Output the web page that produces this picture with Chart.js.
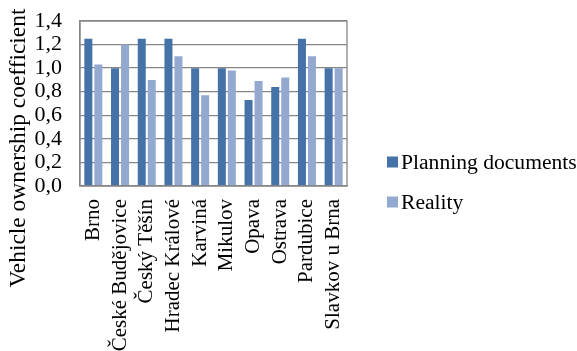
<!DOCTYPE html>
<html>
<head>
<meta charset="utf-8">
<script src="https://cdn.jsdelivr.net/npm/chart.js@4/dist/chart.umd.min.js"></script>
<style>
  html, body { margin: 0; padding: 0; background: #fff; }
  #wrap { width: 577px; height: 351px; }
</style>
</head>
<body>
<div id="wrap"><canvas id="coefChart" width="577" height="351"></canvas></div>
<script>
const cities = ["Brno", "České Budějovice", "Český Těšín", "Hradec Králové", "Karviná",
  "Mikulov", "Opava", "Ostrava", "Pardubice", "Slavkov u Brna"];
const planning = [1.25, 1.0, 1.25, 1.25, 1.0, 1.0, 0.73, 0.84, 1.25, 1.0];
const reality = [1.03, 1.2, 0.9, 1.1, 0.77, 0.98, 0.89, 0.92, 1.1, 1.0];
const yTicks = [0, 0.2, 0.4, 0.6, 0.8, 1.0, 1.2, 1.4];
const yTitle = "Vehicle ownership coefficient";

const serif = "'Liberation Serif', 'Times New Roman', serif";
Chart.defaults.font.family = serif;
Chart.defaults.color = "#000";

// plot frame, rotated axis title and the legend on the right
const frame = {
  id: "frame",
  afterDraw(chart) {
    const { ctx, chartArea: a } = chart;
    ctx.save();
    ctx.strokeStyle = "#868686";
    ctx.lineWidth = 1.3;
    ctx.strokeRect(a.left, a.top, a.right - a.left, a.bottom - a.top);

    ctx.font = "21.6px " + serif;
    ctx.textAlign = "left";
    ctx.textBaseline = "middle";
    chart.data.datasets.forEach((ds, i) => {
      const y = 162 + i * 40;
      ctx.fillStyle = ds.backgroundColor;
      ctx.fillRect(387, y - 5.5, 11, 11);
      ctx.fillStyle = "#000";
      ctx.fillText(ds.label, 401, y + 1);
    });

    ctx.translate(25, 148);
    ctx.rotate(-Math.PI / 2);
    ctx.font = "23.4px " + serif;
    ctx.textAlign = "center";
    ctx.textBaseline = "alphabetic";
    ctx.fillText(yTitle, 0, 0);
    ctx.restore();
  }
};

new Chart(document.getElementById("coefChart"), {
  type: "bar",
  data: {
    labels: cities,
    datasets: [
      { label: "Planning documents", data: planning, backgroundColor: "#4572A7" },
      { label: "Reality", data: reality, backgroundColor: "#94A9D0" }
    ]
  },
  options: {
    responsive: false,
    animation: false,
    layout: { padding: { top: 21, left: 0, right: 230, bottom: 0 } },
    datasets: { bar: { categoryPercentage: 0.75, barPercentage: 0.8 } },
    scales: {
      x: {
        grid: { display: false, drawTicks: false },
        border: { color: "#868686", width: 1.3 },
        ticks: {
          autoSkip: false, minRotation: 90, maxRotation: 90, padding: 13,
          font: { size: 21 }
        },
        afterFit(scale) {
          scale.height = 165;
          scale.paddingLeft = 0;
          scale.paddingRight = 0;
        }
      },
      y: {
        min: 0, max: 1.4,
        afterBuildTicks(scale) { scale.ticks = yTicks.map(v => ({ value: v })); },
        grid: { color: "#868686", lineWidth: 1.3, drawTicks: false },
        border: { color: "#868686", width: 1.3 },
        ticks: {
          autoSkip: false,
          padding: 18,
          font: { size: 22 },
          callback: v => v.toFixed(1).replace(".", ",")
        },
        afterFit(scale) {
          scale.width = 80;
          scale.paddingTop = 0;
          scale.paddingBottom = 0;
        }
      }
    },
    plugins: {
      legend: { display: false },
      tooltip: { enabled: false }
    }
  },
  plugins: [frame]
});
</script>
</body>
</html>
